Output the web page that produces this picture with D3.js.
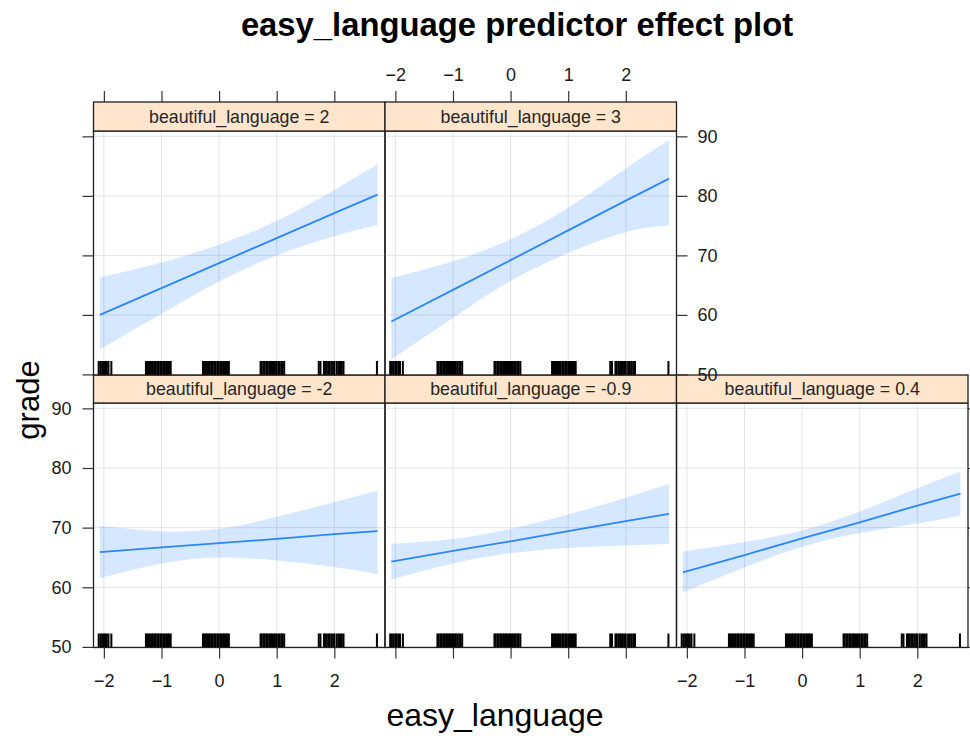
<!DOCTYPE html>
<html>
<head>
<meta charset="utf-8">
<script src="https://cdn.jsdelivr.net/npm/d3@7/dist/d3.min.js"></script>
<style>
  body { margin: 0; background: #ffffff; }
  svg { display: block; font-family: "Liberation Sans", Arial, Helvetica, sans-serif; }
</style>
</head>
<body>
<script>
// ---------------- data ----------------
const titleText = "easy_language predictor effect plot";
const xLabel = "easy_language";
const yLabel = "grade";

const panelLabels = ["beautiful_language = -2", "beautiful_language = -0.9", "beautiful_language = 0.4",
                     "beautiful_language = 2", "beautiful_language = 3"];

const xTicks = [-2, -1, 0, 1, 2];
const xTickLabels = ["\u22122", "\u22121", "0", "1", "2"];
const yTicks = [50, 60, 70, 80, 90];
const yTickLabels = ["50", "60", "70", "80", "90"];

// x positions at which fit and confidence band were read
const xPts = [-2.07, -1, 0, 1, 2, 2.75];

// beautiful_language = -2
const fitBm2   = [65.9, 66.7, 67.4, 68.1, 68.9, 69.4];
const lowerBm2 = [61.5, 64.0, 65.0, 64.5, 63.4, 62.2];
const upperBm2 = [70.3, 69.4, 69.8, 71.8, 74.3, 76.2];
// beautiful_language = -0.9
const fitBm09   = [64.3, 66.1, 67.7, 69.4, 71.1, 72.3];
const lowerBm09 = [61.3, 64.0, 65.7, 66.6, 67.0, 67.3];
const upperBm09 = [67.3, 68.1, 69.8, 72.2, 75.0, 77.3];
// beautiful_language = 0.4
const fitB04   = [62.5, 65.4, 68.2, 70.9, 73.7, 75.7];
const lowerB04 = [59.1, 63.3, 66.8, 69.1, 70.7, 72.0];
const upperB04 = [66.0, 67.6, 69.5, 72.7, 76.6, 79.4];
// beautiful_language = 2
const fitB2   = [60.0, 64.5, 68.7, 72.9, 77.1, 80.2];
const lowerB2 = [54.2, 60.2, 65.6, 70.0, 73.2, 75.1];
const upperB2 = [66.3, 68.8, 71.8, 75.8, 81.0, 85.3];
// beautiful_language = 3
const fitB3   = [58.9, 64.2, 69.2, 74.2, 79.2, 82.9];
const lowerB3 = [52.5, 59.5, 65.7, 70.4, 73.9, 75.0];
const upperB3 = [66.2, 69.0, 72.7, 78.0, 84.6, 89.4];

// rug: observed easy_language values
const rugValues = [
  -2.09, -2.06, -2.03, -2.00, -1.98, -1.95, -1.92, -1.87,
  -1.27, -1.25, -1.22, -1.20, -1.17, -1.15, -1.12, -1.10, -1.07, -1.05, -1.02, -1.00,
  -0.97, -0.95, -0.92, -0.89, -0.87, -0.84,
  -0.28, -0.26, -0.23, -0.21, -0.18, -0.16, -0.13, -0.11, -0.08, -0.06, -0.03, -0.01,
  0.02, 0.04, 0.07, 0.09, 0.12, 0.14, 0.17,
  0.72, 0.74, 0.77, 0.79, 0.82, 0.84, 0.87, 0.90, 0.92, 0.95, 0.97, 1.00, 1.03, 1.05, 1.08, 1.10, 1.13,
  1.73, 1.76, 1.82, 1.84, 1.87, 1.90, 1.92, 1.95, 1.98, 2.00, 2.04, 2.07, 2.10, 2.13, 2.16,
  2.74
];

// ---------------- layout ----------------
const W = 970, H = 736;
const colX = [93.5, 385, 676.5];
const panelW = 291.5;
const rows = {
  bottom: { stripTop: 375, plotTop: 403, plotBottom: 647.5 },
  top:    { stripTop: 102, plotTop: 131, plotBottom: 375 }
};
const xDomain = [-2.18, 2.88];
const yDomain = [49.9, 90.9];
const tickLen = 11;
const tickFont = 18;
const stripFont = 17.8;

const panels = [
  { label: panelLabels[0], row: "bottom", col: 0, fit: fitBm2, lo: lowerBm2, hi: upperBm2 },
  { label: panelLabels[1], row: "bottom", col: 1, fit: fitBm09, lo: lowerBm09, hi: upperBm09 },
  { label: panelLabels[2], row: "bottom", col: 2, fit: fitB04, lo: lowerB04, hi: upperB04 },
  { label: panelLabels[3], row: "top", col: 0, fit: fitB2, lo: lowerB2, hi: upperB2 },
  { label: panelLabels[4], row: "top", col: 1, fit: fitB3, lo: lowerB3, hi: upperB3 }
];

const svg = d3.select("body").append("svg").attr("width", W).attr("height", H);
const defs = svg.append("defs");

const lineColor = "#2a85ff";
const bandColor = "#0073ff";
const gridColor = "#e4e4e4";
const borderColor = "#1e1e1e";
const tickColor = "#333333";
const textColor = "#1a1a1a";

function styleAxis(g, showLabels) {
  g.select(".domain").remove();
  g.selectAll(".tick line").attr("stroke", tickColor).attr("stroke-width", 1.2);
  g.selectAll(".tick text")
    .attr("fill", textColor)
    .style("font-size", tickFont + "px")
    .style("font-family", '"Liberation Sans", Arial, Helvetica, sans-serif');
  if (!showLabels) g.selectAll(".tick text").remove();
}

panels.forEach((p, i) => {
  const r = rows[p.row];
  const x0 = colX[p.col];
  const xs = d3.scaleLinear().domain(xDomain).range([x0, x0 + panelW]);
  const ys = d3.scaleLinear().domain(yDomain).range([r.plotBottom, r.plotTop]);

  const clipId = "clip" + i;
  defs.append("clipPath").attr("id", clipId)
    .append("rect").attr("x", x0).attr("y", r.plotTop)
    .attr("width", panelW).attr("height", r.plotBottom - r.plotTop);

  const g = svg.append("g");
  const inner = g.append("g").attr("clip-path", "url(#" + clipId + ")");

  // grid
  inner.selectAll("line.vg").data(xTicks).enter().append("line")
    .attr("x1", d => xs(d)).attr("x2", d => xs(d))
    .attr("y1", r.plotTop).attr("y2", r.plotBottom)
    .attr("stroke", gridColor).attr("stroke-width", 1);
  inner.selectAll("line.hg").data(yTicks).enter().append("line")
    .attr("x1", x0).attr("x2", x0 + panelW)
    .attr("y1", d => ys(d)).attr("y2", d => ys(d))
    .attr("stroke", gridColor).attr("stroke-width", 1);

  const pts = xPts.map((x, k) => ({ x: x, fit: p.fit[k], lo: p.lo[k], hi: p.hi[k] }));

  // band
  const area = d3.area().x(d => xs(d.x)).y0(d => ys(d.lo)).y1(d => ys(d.hi)).curve(d3.curveNatural);
  inner.append("path").datum(pts).attr("d", area)
    .attr("fill", bandColor).attr("fill-opacity", 0.16).attr("stroke", "none");

  // fit line
  const line = d3.line().x(d => xs(d.x)).y(d => ys(d.fit));
  inner.append("path").datum(pts).attr("d", line)
    .attr("fill", "none").attr("stroke", lineColor).attr("stroke-width", 1.8);

  // rug
  inner.selectAll("line.rug").data(rugValues).enter().append("line")
    .attr("x1", d => xs(d)).attr("x2", d => xs(d))
    .attr("y1", r.plotBottom).attr("y2", r.plotBottom - 14)
    .attr("stroke", "#000").attr("stroke-width", 2);

  // border
  g.append("rect").attr("x", x0).attr("y", r.plotTop)
    .attr("width", panelW).attr("height", r.plotBottom - r.plotTop)
    .attr("fill", "none").attr("stroke", borderColor).attr("stroke-width", 1.3);

  // strip
  g.append("rect").attr("x", x0).attr("y", r.stripTop)
    .attr("width", panelW).attr("height", r.plotTop - r.stripTop)
    .attr("fill", "#ffe5cc").attr("stroke", borderColor).attr("stroke-width", 1.3);
  g.append("text").attr("x", x0 + panelW / 2).attr("y", (r.stripTop + r.plotTop) / 2 + 6)
    .attr("text-anchor", "middle").attr("fill", "#262626")
    .style("font-size", stripFont + "px").text(p.label);

  // axes
  const fmtX = d => xTickLabels[xTicks.indexOf(d)];
  const fmtY = d => yTickLabels[yTicks.indexOf(d)];
  if (p.row === "bottom") {
    const ax = d3.axisBottom(xs).tickValues(xTicks).tickSize(tickLen).tickPadding(16).tickFormat(fmtX);
    const ag = svg.append("g").attr("transform", "translate(0," + r.plotBottom + ")").call(ax);
    styleAxis(ag, p.col !== 1);
  } else {
    const ax = d3.axisTop(xs).tickValues(xTicks).tickSize(tickLen).tickPadding(10).tickFormat(fmtX);
    const ag = svg.append("g").attr("transform", "translate(0," + r.stripTop + ")").call(ax);
    styleAxis(ag, p.col === 1);
  }
  if (p.col === 0) {
    const ay = d3.axisLeft(ys).tickValues(yTicks).tickSize(tickLen).tickPadding(11).tickFormat(fmtY);
    const ag = svg.append("g").attr("transform", "translate(" + x0 + ",0)").call(ay);
    styleAxis(ag, p.row === "bottom");
  }
  if ((p.row === "top" && p.col === 1) || (p.row === "bottom" && p.col === 2)) {
    const ay = d3.axisRight(ys).tickValues(yTicks).tickSize(tickLen).tickPadding(10).tickFormat(fmtY);
    const ag = svg.append("g").attr("transform", "translate(" + (x0 + panelW) + ",0)").call(ay);
    styleAxis(ag, p.row === "top");
  }
});

// titles
svg.append("text").attr("x", 517).attr("y", 36).attr("text-anchor", "middle")
  .attr("fill", "#000").style("font-size", "32.8px").style("font-weight", "bold").text(titleText);
svg.append("text").attr("x", 495).attr("y", 726).attr("text-anchor", "middle")
  .attr("fill", "#000").style("font-size", "32px").text(xLabel);
svg.append("text").attr("transform", "translate(39,400) rotate(-90)").attr("text-anchor", "middle")
  .attr("fill", "#000").style("font-size", "31px").text(yLabel);
</script>
</body>
</html>
